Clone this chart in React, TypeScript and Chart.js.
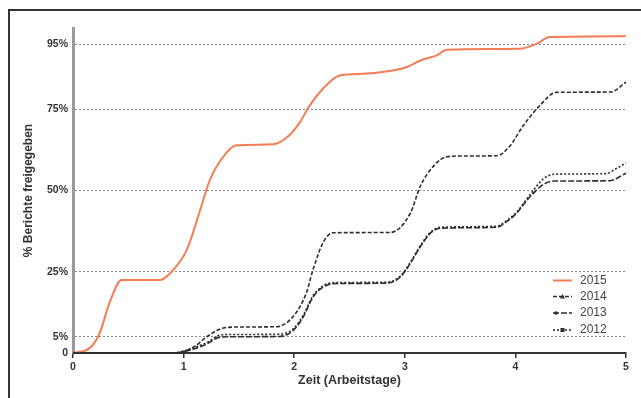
import { useEffect, useRef } from 'react';
import { Chart, registerables } from 'chart.js';

Chart.register(...registerables);

// ---- data (x = Arbeitstage, y = % Berichte freigegeben) ----
const seriesNames = ['2015', '2014', '2013', '2012'];

const days2015 = [0, 0.15, 0.24, 0.33, 0.44, 0.79, 0.88, 1.03, 1.15, 1.24, 1.39, 1.48, 1.81, 1.93, 2.05, 2.13, 2.26, 2.41, 2.62, 2.89, 3.02, 3.14, 3.29, 3.38, 4.04, 4.19, 4.31, 5];
const pct2015 = [0, 1.5, 6, 15.4, 22.5, 22.5, 24.6, 31.8, 44, 53.4, 61.7, 63.9, 64.2, 66.2, 70.9, 75.6, 81.3, 85.4, 85.9, 86.9, 88, 90, 91.6, 93.3, 93.6, 95.1, 97.2, 97.5];

const days2014 = [0, 0.9, 1.0, 1.1, 1.21, 1.36, 1.5, 1.84, 1.99, 2.11, 2.17, 2.26, 2.35, 2.87, 3.05, 3.14, 3.26, 3.38, 3.5, 3.83, 3.95, 4.07, 4.22, 4.37, 4.86, 5];
const pct2014 = [0, 0, 0.5, 2, 5, 7.7, 8, 8.1, 11.2, 18.5, 25.6, 33.9, 37, 37.1, 43, 51.3, 57.5, 60.4, 60.6, 60.7, 63.7, 69.9, 76.1, 80.2, 80.3, 83.3];

const days2013 = [0, 0.9, 1.0, 1.1, 1.21, 1.33, 1.45, 1.87, 1.99, 2.08, 2.17, 2.29, 2.41, 2.84, 2.96, 3.05, 3.14, 3.23, 3.32, 3.83, 3.92, 4.01, 4.13, 4.25, 4.35, 4.85, 5];
const pct2013 = [0, 0, 0.4, 1.3, 2.8, 4.9, 5.0, 5.1, 6.9, 11, 17.2, 20.8, 21.4, 21.5, 23.4, 27.6, 32.7, 36.8, 38.4, 38.7, 40.4, 43, 48, 51.8, 52.9, 53, 55.3];

const days2012 = [0, 0.9, 1.0, 1.1, 1.21, 1.33, 1.45, 1.87, 1.99, 2.08, 2.17, 2.29, 2.41, 2.84, 2.96, 3.05, 3.14, 3.23, 3.32, 3.83, 3.92, 4.01, 4.13, 4.25, 4.35, 4.82, 4.9, 5];
const pct2012 = [0, 0, 0.6, 1.7, 3.2, 5.5, 5.7, 5.8, 7.4, 11.5, 17.6, 21.2, 21.7, 21.8, 23.7, 27.9, 33, 37.1, 38.7, 39, 40.7, 43.3, 48.6, 53.5, 55, 55.2, 56.5, 58.5];

const yTicks = [0, 5, 25, 50, 75, 95];
const xTicks = [0, 1, 2, 3, 4, 5];

const colors = ['#f47d55', '#2e2e2e', '#2e2e2e', '#2e2e2e'];
const dashes: number[][] = [[], [4, 2], [6, 2], [2, 2]];

const FONT = '"Liberation Sans", Arial, sans-serif';

function toPoints(xs: number[], ys: number[]) {
  return xs.map((x, i) => ({ x, y: ys[i] }));
}

const insideLegend = {
  id: 'insideLegend',
  afterDatasetsDraw(chart: any) {
    const ctx = chart.ctx as CanvasRenderingContext2D;
    const { right, bottom } = chart.chartArea;
    const rowsY = [bottom - 72.5, bottom - 56.5, bottom - 40, bottom - 23];
    const x0 = right - 73;
    const x1 = right - 54;
    ctx.save();
    seriesNames.forEach((name, i) => {
      const y = rowsY[i];
      ctx.strokeStyle = colors[i];
      ctx.lineWidth = i === 0 ? 2 : 1.6;
      ctx.setLineDash(dashes[i]);
      ctx.beginPath();
      ctx.moveTo(x0, y);
      ctx.lineTo(x1, y);
      ctx.stroke();
      ctx.setLineDash([]);
      ctx.fillStyle = colors[i];
      const mx = (x0 + x1) / 2;
      if (i === 1) {
        ctx.beginPath();
        ctx.moveTo(mx, y - 2.5);
        ctx.lineTo(mx + 2.5, y + 2);
        ctx.lineTo(mx - 2.5, y + 2);
        ctx.closePath();
        ctx.fill();
      } else if (i === 2) {
        ctx.beginPath();
        ctx.arc(x0 + 3, y, 1.8, 0, Math.PI * 2);
        ctx.fill();
      } else if (i === 3) {
        ctx.fillRect(mx - 2, y - 2, 4, 4);
      }
      ctx.fillStyle = '#444';
      ctx.font = `12px ${FONT}`;
      ctx.textBaseline = 'middle';
      ctx.textAlign = 'left';
      ctx.fillText(name, right - 46, y);
    });
    ctx.restore();
  },
};

export default function App() {
  const ref = useRef<HTMLCanvasElement | null>(null);

  useEffect(() => {
    if (!ref.current) return;
    const series = [
      toPoints(days2015, pct2015),
      toPoints(days2014, pct2014),
      toPoints(days2013, pct2013),
      toPoints(days2012, pct2012),
    ];
    const chart = new Chart(ref.current, {
      type: 'line',
      data: {
        datasets: series.map((pts, i) => ({
          label: seriesNames[i],
          data: pts,
          borderColor: colors[i],
          backgroundColor: colors[i],
          borderWidth: i === 0 ? 2 : 1.6,
          borderDash: dashes[i],
          pointRadius: 0,
          cubicInterpolationMode: 'monotone' as const,
          fill: false,
          clip: false as any,
          order: 4 - i,
        })),
      },
      options: {
        animation: false,
        responsive: false,
        devicePixelRatio: 1,
        layout: { padding: { left: 0, top: 17, right: 15, bottom: 0 } },
        plugins: {
          legend: { display: false },
          tooltip: { enabled: false },
        },
        scales: {
          x: {
            type: 'linear',
            min: 0,
            max: 5,
            afterFit: (s: any) => { s.height = 45; },
            afterBuildTicks: (s: any) => { s.ticks = xTicks.map((v) => ({ value: v })); },
            ticks: {
              padding: 3,
              color: '#333',
              font: { family: FONT, size: 10.5, weight: 'bold' },
              callback: (v: any) => String(v),
            },
            grid: { drawOnChartArea: false, drawTicks: true, tickLength: 5, color: '#333', lineWidth: 1.5 },
            border: { display: true, color: '#333', width: 2 },
            title: {
              display: true,
              text: 'Zeit (Arbeitstage)',
              color: '#333',
              font: { family: FONT, size: 12.5, weight: 'bold' },
              padding: { top: 0, bottom: 9.5 },
            },
          },
          y: {
            type: 'linear',
            min: 0,
            max: 100,
            afterFit: (s: any) => { s.width = 63; },
            afterBuildTicks: (s: any) => { s.ticks = yTicks.map((v) => ({ value: v })); },
            ticks: {
              padding: 5,
              color: '#333',
              font: { family: FONT, size: 10.5, weight: 'bold' },
              callback: (v: any) => (v === 0 ? '0' : `${v}%`),
            },
            grid: {
              drawTicks: false,
              lineWidth: 1,
              color: (c: any) => (c.tick && c.tick.value === 0 ? 'rgba(0,0,0,0)' : '#8a8a8a'),
            },
            border: { display: true, color: '#9a9a9a', width: 3, dash: [2, 2] },
            title: {
              display: true,
              text: '% Berichte freigegeben',
              color: '#333',
              font: { family: FONT, size: 12, weight: 'bold' },
              padding: { top: 11, bottom: 0 },
            },
          },
        },
      },
      plugins: [insideLegend],
    });
    return () => chart.destroy();
  }, []);

  return (
    <div
      style={{
        position: 'fixed',
        left: 8,
        top: 9,
        width: 633,
        height: 389,
        borderLeft: '2px solid #333',
        borderTop: '2px solid #333',
        background: '#fff',
      }}
    >
      <canvas ref={ref} width={631} height={387} style={{ display: 'block' }} />
    </div>
  );
}
